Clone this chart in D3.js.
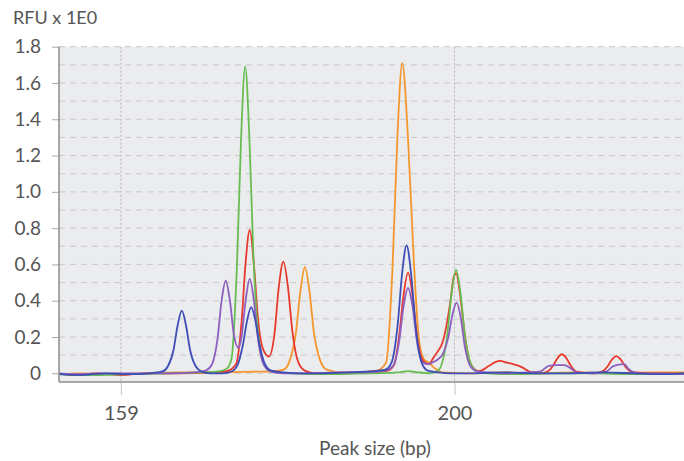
<!DOCTYPE html>
<html>
<head>
<meta charset="utf-8">
<script src="https://cdn.jsdelivr.net/npm/d3@7"></script>
<style>
  body { margin: 0; background: #fff; }
  svg { display: block; font-family: Lato, "Open Sans", sans-serif; }
</style>
</head>
<body>
<svg id="chart" width="684" height="461"></svg>
<script>
// electropherogram traces, [peak size (bp), RFU]
const blue = [
  [151.4, -0.005], [154, -0.01], [157, 0.0], [160, -0.005], [162.5, 0.0], [164.1, 0.01],
  [164.8, 0.04], [165.48, 0.13], [165.98, 0.265], [166.49, 0.345], [167.0, 0.265], [167.5, 0.13], [168.18, 0.04], [168.9, 0.01],
  [170, 0.0], [171.5, 0.0], [172.6, 0.01], [173.33, 0.045],
  [174.01, 0.16], [174.51, 0.29], [175.02, 0.365], [175.53, 0.29], [176.03, 0.16], [176.71, 0.05], [177.5, 0.015],
  [179, 0.005], [181, 0.0], [184, 0.0], [187, 0.005], [189.5, 0.01], [191.5, 0.02],
  [192.27, 0.06], [193.0, 0.26], [193.56, 0.55], [194.11, 0.705], [194.66, 0.55], [195.22, 0.26], [195.95, 0.06], [196.7, 0.015],
  [198, 0.005], [199.5, 0.0], [202, 0.0], [206, 0.005], [210, 0.0], [214, 0.0], [218, 0.005], [222, 0.0], [225, -0.005], [228.2, 0.0]
];
const purple = [
  [151.4, 0.0], [154, -0.005], [157, 0.0], [161, 0.0], [165, 0.0], [168, 0.005], [169.4, 0.015],
  [170.2, 0.05], [170.88, 0.19], [171.38, 0.4], [171.89, 0.51], [172.4, 0.4], [172.9, 0.21], [173.45, 0.14],
  [173.83, 0.2], [174.33, 0.4], [174.84, 0.52], [175.35, 0.4], [175.85, 0.19], [176.53, 0.05], [177.3, 0.012],
  [179, 0.0], [182, 0.0], [186, 0.005], [189, 0.005], [191.5, 0.015],
  [192.45, 0.04], [193.18, 0.17], [193.74, 0.37], [194.29, 0.47], [194.84, 0.37], [195.4, 0.17], [196.13, 0.06],
  [196.8, 0.05], [197.3, 0.06], [197.9, 0.075],
  [198.6, 0.11], [199.24, 0.2], [199.74, 0.32], [200.25, 0.39], [200.76, 0.31], [201.26, 0.15], [201.94, 0.04], [202.8, 0.01],
  [204, 0.005], [206, 0.0], [209, 0.005], [210.6, 0.01], [211.5, 0.04], [212.5, 0.045], [213.5, 0.045], [214.2, 0.03],
  [215, 0.005], [217, 0.0], [218.7, 0.01], [219.5, 0.04], [220.8, 0.05], [221.5, 0.02], [222.5, 0.0], [225, 0.0], [228.2, -0.005]
];
const green = [
  [151.4, -0.005], [155, -0.01], [160, -0.005], [165, 0.0], [169, 0.005], [171, 0.01], [172, 0.025],
  [172.59, 0.08], [173.27, 0.6], [173.77, 1.29], [174.28, 1.69], [174.79, 1.3], [175.29, 0.65], [175.8, 0.25],
  [176.2, 0.12], [176.8, 0.035], [177.6, 0.008],
  [180, 0.0], [185, -0.005], [190, 0.0], [193, 0.005], [194.3, 0.012], [195.5, 0.005], [197, 0.0], [198.0, 0.015],
  [198.35, 0.04], [199.08, 0.2], [199.64, 0.44], [200.19, 0.57], [200.74, 0.44], [201.3, 0.2], [202.03, 0.05], [202.8, 0.01],
  [204, 0.0], [207, -0.005], [212, 0.0], [217, 0.0], [222, -0.005], [228.2, 0.0]
];
const red = [
  [151.4, 0.0], [153, -0.01], [156, 0.0], [159, -0.01], [162, 0.0], [166, 0.0], [170, 0.005], [172, 0.012],
  [173.15, 0.05], [173.83, 0.28], [174.33, 0.61], [174.84, 0.79], [175.35, 0.6], [175.85, 0.3], [176.5, 0.13], [177.21, 0.092],
  [177.86, 0.21], [178.42, 0.48], [178.97, 0.615], [179.52, 0.48], [180.08, 0.23], [180.81, 0.06], [181.6, 0.015],
  [183, 0.0], [186, 0.0], [190, 0.005], [191.8, 0.015], [192.6, 0.05],
  [193.18, 0.2], [193.74, 0.43], [194.29, 0.555], [194.84, 0.43], [195.4, 0.2], [196.13, 0.07], [196.81, 0.05],
  [197.4, 0.085], [198.0, 0.125], [198.49, 0.165], [199.0, 0.26], [199.51, 0.4], [199.9, 0.53], [200.2, 0.55],
  [200.7, 0.43], [201.3, 0.2], [202.0, 0.05], [203.0, 0.012],
  [204.2, 0.04], [205.0, 0.062], [205.65, 0.068], [206.3, 0.06], [207.2, 0.05], [208.2, 0.035], [209.2, 0.01], [210.5, 0.0],
  [211.36, 0.008], [212.09, 0.04], [212.65, 0.083], [213.2, 0.105], [213.75, 0.083], [214.31, 0.04], [215.04, 0.008],
  [217, 0.0], [218.05, 0.008], [218.78, 0.036], [219.34, 0.075], [219.89, 0.095], [220.44, 0.075], [221.0, 0.036], [221.73, 0.008],
  [224, 0.0], [228.2, 0.0]
];
const orange = [
  [151.4, -0.005], [154, 0.0], [158, -0.005], [162, 0.0], [166, 0.005], [170, 0.005], [174, 0.008], [177.5, 0.01],
  [179.0, 0.02], [179.75, 0.07], [180.5, 0.22], [181.06, 0.45], [181.62, 0.585], [182.18, 0.45], [182.74, 0.22], [183.5, 0.07], [184.3, 0.02],
  [186, 0.005], [188, 0.005], [190.5, 0.015], [191.6, 0.06],
  [192.38, 0.58], [192.98, 1.3], [193.58, 1.71], [194.29, 1.29], [195.0, 0.62], [195.6, 0.2], [196.2, 0.08],
  [196.8, 0.06], [197.5, 0.03], [198.5, 0.005], [202, 0.0], [206, 0.005], [210, 0.0], [215, 0.005], [220, 0.0], [224, 0.005], [228.2, 0.005]
];

const traces = [
  {name: "orange", color: "#f5962d", values: orange},
  {name: "red", color: "#e8392e", values: red},
  {name: "green", color: "#68bd52", values: green},
  {name: "purple", color: "#8d5fbf", values: purple},
  {name: "blue", color: "#3e4eb5", values: blue}
];

const xTicks = [159, 200];
const yTicks = [0, 0.2, 0.4, 0.6, 0.8, 1.0, 1.2, 1.4, 1.6, 1.8];
const yGrid = d3.range(0, 19).map(i => i / 10);

const plotLeft = 59, plotRight = 684, plotTop = 46.7, plotBottom = 382;

const x = d3.scaleLinear().domain([151.4, 228.2]).range([plotLeft, plotRight]);
const y = d3.scaleLinear().domain([-0.048, 1.8]).range([plotBottom, plotTop]);

const svg = d3.select("#chart");

svg.append("rect")
    .attr("x", plotLeft).attr("y", plotTop)
    .attr("width", plotRight - plotLeft).attr("height", plotBottom - plotTop)
    .attr("fill", "#ebecee");

svg.append("clipPath").attr("id", "plot")
  .append("rect")
    .attr("x", plotLeft).attr("y", plotTop - 5)
    .attr("width", plotRight - plotLeft).attr("height", plotBottom - plotTop + 5);

// dashed horizontal grid every 0.1
svg.append("g")
  .selectAll("line")
  .data(yGrid)
  .join("line")
    .attr("x1", plotLeft).attr("x2", plotRight)
    .attr("y1", d => y(d)).attr("y2", d => y(d))
    .attr("stroke", "#c9c9cc")
    .attr("stroke-width", 1)
    .attr("stroke-dasharray", "6,5");

// dotted vertical grid at the size markers
svg.append("g")
  .selectAll("line")
  .data(xTicks)
  .join("line")
    .attr("x1", d => x(d)).attr("x2", d => x(d))
    .attr("y1", plotTop).attr("y2", plotBottom)
    .attr("stroke", "#b5b5b8")
    .attr("stroke-width", 1)
    .attr("stroke-dasharray", "2,2");

const line = d3.line()
    .x(d => x(d[0]))
    .y(d => y(d[1]))
    .curve(d3.curveMonotoneX);

svg.append("g")
    .attr("clip-path", "url(#plot)")
  .selectAll("path")
  .data(traces)
  .join("path")
    .attr("fill", "none")
    .attr("stroke", d => d.color)
    .attr("stroke-width", 1.8)
    .attr("stroke-linejoin", "round")
    .attr("d", d => line(d.values));

// y axis
const yAxis = svg.append("g")
    .attr("transform", `translate(${plotLeft},0)`)
    .call(d3.axisLeft(y).tickValues(yTicks).tickSize(7).tickPadding(11)
      .tickFormat(d => d === 0 ? "0" : d3.format(".1f")(d)));
yAxis.select(".domain").remove();
yAxis.selectAll(".tick line").attr("stroke", "#aaaaaa");
yAxis.selectAll(".tick text")
    .attr("fill", "#555")
    .attr("font-size", 19)
    .attr("font-family", "Lato, sans-serif");

// x axis
const xAxis = svg.append("g")
    .attr("transform", `translate(0,${plotBottom})`)
    .call(d3.axisBottom(x).tickValues(xTicks).tickSize(13).tickPadding(11).tickFormat(d3.format("d")));
xAxis.select(".domain").remove();
xAxis.selectAll(".tick line").attr("stroke", "#c4c4c4");
xAxis.selectAll(".tick text")
    .attr("fill", "#555")
    .attr("font-size", 20)
    .attr("font-family", "Lato, sans-serif");

// frame lines
svg.append("line")
    .attr("x1", plotLeft).attr("x2", plotLeft).attr("y1", plotTop).attr("y2", plotBottom)
    .attr("stroke", "#8c8c8c").attr("stroke-width", 1.5);
svg.append("line")
    .attr("x1", plotLeft).attr("x2", plotRight).attr("y1", plotBottom).attr("y2", plotBottom)
    .attr("stroke", "#8c8c8c").attr("stroke-width", 1.5);

svg.append("text")
    .attr("x", 13).attr("y", 24)
    .attr("fill", "#555")
    .attr("font-size", 18)
    .text("RFU x 1E0");

svg.append("text")
    .attr("x", 375).attr("y", 455)
    .attr("text-anchor", "middle")
    .attr("fill", "#555")
    .attr("font-size", 19)
    .text("Peak size (bp)");
</script>
</body>
</html>
